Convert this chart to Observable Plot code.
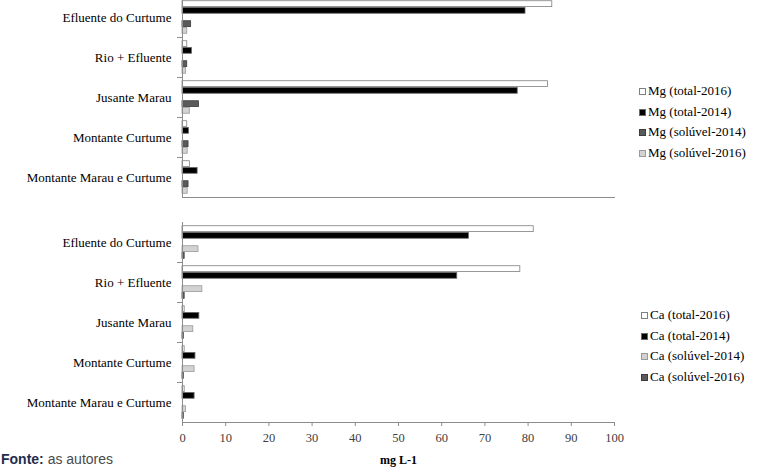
<!DOCTYPE html>
<html>
<head>
<meta charset="utf-8">
<script src="https://cdn.jsdelivr.net/npm/d3@7"></script>
<script src="https://cdn.jsdelivr.net/npm/@observablehq/plot@0.6"></script>
<style>
html, body { margin: 0; padding: 0; overflow: hidden; background: #fff; }
#wrap { position: relative; width: 762px; height: 468px; overflow: hidden; background: #fff; font-family: "Liberation Serif", serif; }
#top { position: absolute; left: 0; top: -3px; line-height: 0; }
#bottom { position: absolute; left: 0; top: 222px; line-height: 0; }
.legend { position: absolute; font: 13px "Liberation Serif", serif; color: #000; }
.legend div { height: 20.5px; line-height: 20.5px; white-space: nowrap; }
.sw { display: inline-block; width: 5px; height: 5px; border: 1px solid #808080; margin-right: 2px; vertical-align: 0px; }
#caption { position: absolute; left: 1px; top: 451px; font: 14px "Liberation Sans", sans-serif; white-space: nowrap; }
#caption b { color: #1f2d4d; }
#caption span { color: #4a4a4a; }
</style>
</head>
<body>
<div id="wrap">
  <div id="top"></div>
  <div id="bottom"></div>
  <div class="legend" id="legTop" style="left:639px; top:81px;"></div>
  <div class="legend" id="legBottom" style="left:641px; top:305px;"></div>
  <div id="caption"><b>Fonte:</b> <span>as autores</span></div>
</div>
<script>
// Categories (top to bottom)
const categories = ["Efluente do Curtume", "Rio + Efluente", "Jusante Marau", "Montante Curtume", "Montante Marau e Curtume"];

// Mg panel
const mgSeries = ["Mg (total-2016)", "Mg (total-2014)", "Mg (solúvel-2014)", "Mg (solúvel-2016)"];
const mgTotal2016 = [85.6, 1.1, 84.6, 1.1, 1.7];
const mgTotal2014 = [79.4, 2.2, 77.6, 1.5, 3.5];
const mgSoluvel2014 = [2.0, 1.1, 3.8, 1.4, 1.4];
const mgSoluvel2016 = [1.1, 0.8, 1.7, 1.2, 1.2];
const mgFills = ["#ffffff", "#000000", "#5a5a5a", "#d2d2d2"];

// Ca panel
const caSeries = ["Ca (total-2016)", "Ca (total-2014)", "Ca (solúvel-2014)", "Ca (solúvel-2016)"];
const caTotal2016 = [81.3, 78.2, 0.5, 0.5, 0.5];
const caTotal2014 = [66.3, 63.6, 3.9, 3.0, 2.8];
const caSoluvel2014 = [3.7, 4.6, 2.5, 2.8, 0.8];
const caSoluvel2016 = [0.5, 0.5, 0.3, 0.3, 0.3];
const caFills = ["#ffffff", "#000000", "#d2d2d2", "#5a5a5a"];

// x-axis ticks
const xTicks = [0, 10, 20, 30, 40, 50, 60, 70, 80, 90, 100];
const xLabel = "mg L-1";

// slot of each series inside a category group (slot "2" stays empty)
const seriesSlots = ["0", "1", "3", "4"];
const slotNames = ["0", "1", "2", "3", "4"];

const yDomain = categories.flatMap((c, i) => [
  ...slotNames.map(s => c + "|" + s),
  ...(i < categories.length - 1 ? [c + "|sep"] : [])
]);
const sepKeys = categories.slice(0, -1).map(c => c + "|sep");

function buildRows(series, valueArrays) {
  const rows = [];
  series.forEach((s, j) => {
    categories.forEach((c, i) => {
      rows.push({category: c, series: s, value: valueArrays[j][i], key: c + "|" + seriesSlots[j]});
    });
  });
  return rows;
}

const strokeMap = {"#ffffff": "#7f7f7f", "#000000": "#6a6a6a", "#5a5a5a": "#3c3c3c", "#d2d2d2": "#9a9a9a"};

function panel({series, values, fills, height, marginBottom, withAxis}) {
  const rows = buildRows(series, values);
  const strokeOf = s => strokeMap[fills[series.indexOf(s)]];
  const marks = [
    Plot.barX(rows, {x: "value", y: "key", fill: "series", stroke: d => strokeOf(d.series), strokeWidth: 0.8, insetTop: 0.4, insetBottom: 0.4}),
    Plot.ruleX([0], {stroke: "#8c8c8c"}),
    Plot.ruleY(sepKeys, {y: d => d, x1: 0, x2: 0, insetLeft: -5, stroke: "#8c8c8c"}),
    Plot.text(categories, {y: c => c + "|2", text: c => c, frameAnchor: "left", textAnchor: "end", dx: -11, fontSize: 13, fill: "#000"}),
    Plot.frame({anchor: "bottom", stroke: "#8c8c8c"})
  ];
  if (withAxis) {
    marks.push(Plot.axisX(xTicks, {tickSize: 4, tickPadding: 7, stroke: "#8c8c8c", fill: "#404040", fontSize: 12.5, label: null}));
    marks.push(Plot.text([xLabel], {frameAnchor: "bottom", text: d => d, dy: 41, fontSize: 12, fontWeight: "bold", fill: "#000"}));
  }
  return Plot.plot({
    width: 762,
    height,
    marginTop: 0,
    marginBottom,
    marginLeft: 182,
    marginRight: 148,
    style: {fontFamily: "Liberation Serif, serif", fontSize: "13px", background: "transparent", overflow: "visible"},
    x: {domain: [0, 100], axis: null},
    y: {type: "band", domain: yDomain, paddingInner: 0, paddingOuter: 0.5, round: false, axis: null},
    color: {domain: series, range: fills},
    marks
  });
}

document.getElementById("top").append(panel({
  series: mgSeries,
  values: [mgTotal2016, mgTotal2014, mgSoluvel2014, mgSoluvel2016],
  fills: mgFills, height: 201, marginBottom: 1, withAxis: false
}));
document.getElementById("bottom").append(panel({
  series: caSeries,
  values: [caTotal2016, caTotal2014, caSoluvel2014, caSoluvel2016],
  fills: caFills, height: 246, marginBottom: 46, withAxis: true
}));

function legend(el, series, fills) {
  series.forEach((s, i) => {
    const row = document.createElement("div");
    const sw = document.createElement("span");
    sw.className = "sw";
    sw.style.background = fills[i];
    sw.style.borderColor = strokeMap[fills[i]];
    row.append(sw, document.createTextNode(s));
    el.append(row);
  });
}
legend(document.getElementById("legTop"), mgSeries, mgFills);
legend(document.getElementById("legBottom"), caSeries, caFills);
</script>
</body>
</html>
